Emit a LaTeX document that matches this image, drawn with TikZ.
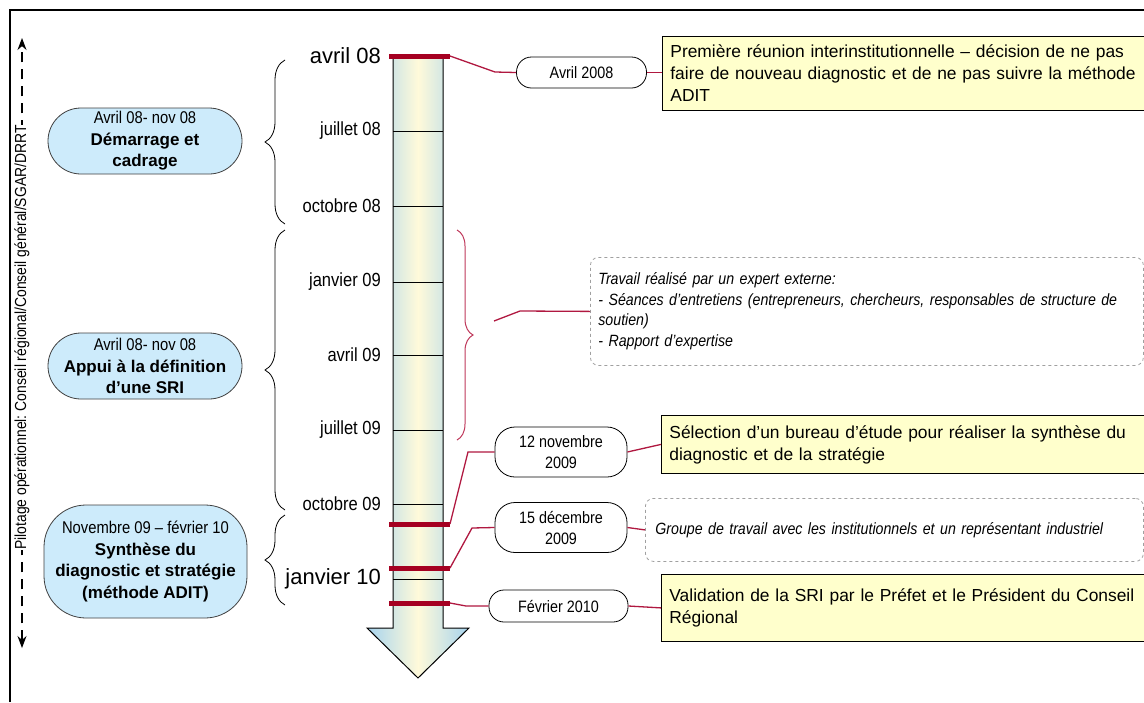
\documentclass[tikz,border=0pt]{standalone}
\usepackage{fontspec}
\setmainfont{Liberation Sans}
\newfontfamily\narrowfont{Liberation Sans}[FakeStretch=0.87]
\usetikzlibrary{decorations.pathreplacing,arrows.meta}

\definecolor{pillblue}{HTML}{CDEBFB}
\definecolor{noteyellow}{HTML}{FFFFCC}
\definecolor{markred}{HTML}{A50021}
\definecolor{linkred}{HTML}{B01840}
\definecolor{bracered}{HTML}{C03A5C}
\definecolor{tlblue}{HTML}{A6D3EE}
\definecolor{tlyellow}{HTML}{FFFADA}
\definecolor{dashgray}{HTML}{A0A0A0}

\newcommand\bigfont{\fontsize{22}{26}\selectfont}
\newcommand\monthfont{\narrowfont\fontsize{19}{22}\selectfont}
\newcommand\phasefont{\fontsize{17}{21.5}\selectfont}
\newcommand\phasedate{\narrowfont\fontsize{17}{21.5}\selectfont}
\newcommand\datefont{\narrowfont\fontsize{16.5}{21}\selectfont}
\newcommand\notefont{\fontsize{17.4}{22}\selectfont}
\newcommand\workfont{\narrowfont\itshape\fontsize{16.3}{20.5}\selectfont}

\tikzset{
  tlab/.style={anchor=east, inner sep=0pt},
  redmark/.style={draw=markred, line width=5pt},
  redline/.style={draw=linkred, line width=1.3pt},
  leftbrace/.style={draw=black, line width=0.8pt, decorate,
    decoration={brace, amplitude=20pt}},
  rightbrace/.style={draw=bracered, line width=1pt, decorate,
    decoration={brace, amplitude=16pt}},
  phasepill/.style={draw=black!75, fill=pillblue, line width=0.8pt,
    rounded corners=33pt, minimum width=194pt, minimum height=66pt,
    align=center, inner sep=0pt, font=\phasefont},
  datepill/.style={draw=black, fill=white, line width=0.8pt,
    rounded corners=15pt, minimum width=130pt, minimum height=31pt,
    align=center, inner sep=0pt, font=\datefont},
  notebox/.style={draw=black, fill=noteyellow, line width=0.8pt,
    anchor=north west, minimum width=506pt, text width=490pt,
    inner xsep=8pt, inner ysep=0pt, align=left, font=\notefont},
  workbox/.style={draw=dashgray, dashed, line width=0.8pt, rounded corners=8pt,
    anchor=north west, inner ysep=0pt, align=left, font=\workfont}
}

\begin{document}
\frenchspacing
\begin{tikzpicture}[x=1pt, y=-1pt]
\useasboundingbox (0,0) rectangle (1144,702);
\clip (0,0) rectangle (1144,702);
\fill[white] (0,0) rectangle (1144,702);

% outer frame (left and top edges)
\draw[line width=2pt] (10,702) -- (10,10) -- (1144,10);

% steering axis with its label
\coordinate (ptop) at (22,38);
\coordinate (pbot) at (22,648);
\draw[line width=1.1pt, dash pattern=on 10pt off 7pt,
  {Stealth[length=12pt,width=9pt]}-{Stealth[length=12pt,width=9pt]}] (pbot) -- (ptop);
\node[fill=white, rotate=90, inner xsep=0pt, inner ysep=2pt,
  font=\narrowfont\fontsize{16}{19}\selectfont] (pilot) at (22,337.5)
  {Pilotage opérationnel: Conseil régional/Conseil général/SGAR/DRRT};

% timeline shaft and arrowhead
\path[draw=black, line width=1pt, left color=tlblue, right color=tlblue, middle color=tlyellow]
  (393,56) -- (443,56) -- (443,628) -- (469,628) -- (418,678) -- (367,628) -- (393,628) -- cycle;

% quarter ticks
\foreach \yy in {131,206,282,355,430,504,579}
  \draw[line width=1pt] (393,\yy) -- (443,\yy);

% month labels
\node[tlab, font=\bigfont] (t1) at (381,56) {avril 08};
\node[tlab, font=\monthfont] (t2) at (381,131) {juillet 08};
\node[tlab, font=\monthfont] (t3) at (381,206) {octobre 08};
\node[tlab, font=\monthfont] (t4) at (381,282) {janvier 09};
\node[tlab, font=\monthfont] (t5) at (381,355) {avril 09};
\node[tlab, font=\monthfont] (t6) at (381,430) {juillet 09};
\node[tlab, font=\monthfont] (t7) at (381,504) {octobre 09};
\node[tlab, font=\bigfont] (t8) at (381,579) {janvier 10};

% event marks on the timeline
\draw[redmark] (389,56) -- (450,56) coordinate (m1);
\draw[redmark] (389,524) -- (450,524) coordinate (m2);
\draw[redmark] (389,568) -- (450,568) coordinate (m3);
\draw[redmark] (389,603) -- (450,603) coordinate (m4);

% phase braces
\draw[leftbrace] (285,224) -- (285,60);
\draw[leftbrace] (285,510) -- (285,230);
\draw[leftbrace] (285,605) -- (285,515);

% phases
\node[phasepill] (p1) at (145,141)
  {{\phasedate Avril 08- nov 08}\\ \textbf{Démarrage et}\\ \textbf{cadrage}};
\node[phasepill] (p2) at (145,366)
  {{\phasedate Avril 08- nov 08}\\ \textbf{Appui à la définition}\\ \textbf{d’une SRI}};
\node[phasepill, rounded corners=42pt, minimum width=203pt, minimum height=113pt] (p3) at (145.5,561.5)
  {{\phasedate Novembre 09 – février 10}\\ \textbf{Synthèse du}\\ \textbf{diagnostic et stratégie}\\ \textbf{(méthode ADIT)}};

% expert work period
\draw[rightbrace] (457,230) -- (457,440);

% event dates
\node[datepill] (d1) at (581.5,72.5) {Avril 2008};
\node[datepill, rounded corners=20pt, minimum width=132pt, minimum height=50pt] (d2) at (561,452) {12 novembre\\2009};
\node[datepill, rounded corners=20pt, minimum width=132pt, minimum height=50pt] (d3) at (561,527.5) {15 décembre\\2009};
\node[datepill, minimum width=139pt, minimum height=32pt] (d4) at (558.5,606) {Février 2010};

% event descriptions
\node[notebox, minimum height=74pt] (y1) at (662,36)
  {Première réunion interinstitutionnelle – décision de ne pas\\
   faire de nouveau diagnostic et de ne pas suivre la méthode\\
   ADIT};
\node[notebox, minimum height=58pt] (y2) at (661,415)
  {Sélection d’un bureau d’étude pour réaliser la synthèse du\\
   diagnostic et de la stratégie};
\node[notebox, minimum height=67pt] (y3) at (661,574)
  {Validation de la SRI par le Préfet et le Président du Conseil\\
   Régional};
\node[workbox, minimum width=553pt, minimum height=108pt, text width=537pt, inner xsep=8pt] (x1) at (590,257)
  {Travail réalisé par un expert externe:\\
   - Séances d’entretiens (entrepreneurs, chercheurs, responsables de structure de\\
   soutien)\\
   - Rapport d’expertise};
\node[workbox, minimum width=498pt, minimum height=63pt, text width=478pt, inner xsep=10pt] (x2) at (645,498)
  {Groupe de travail avec les institutionnels et un représentant industriel};

% connectors
\coordinate (bt) at (494,321);
\draw[redline] (m1) -- (495,72) -- (d1.west);
\draw[redline] (d1.east) -- (d1.east -| y1.west);
\draw[redline] (bt) -- (520,311) -- (x1.west);
\draw[redline] (m2) -- (468,452) -- (d2.west);
\draw[redline] (d2.east) -- (y2.west);
\draw[redline] (m3) -- (472,528) -- (d3.west);
\draw[redline] (d3.east) -- (x2.west);
\draw[redline] (m4) -- (466,606) -- (d4.west);
\draw[redline] (d4.east) -- (y3.west);
\end{tikzpicture}
\end{document}
